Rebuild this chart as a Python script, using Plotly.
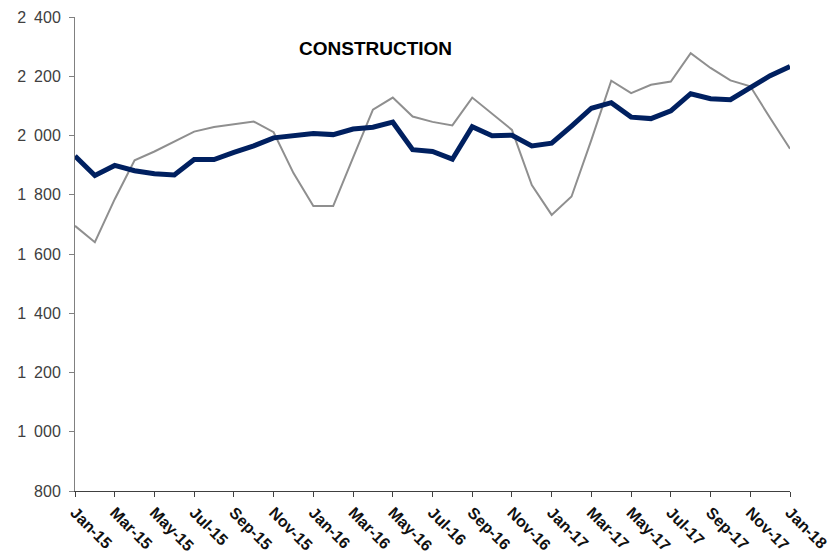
import plotly.graph_objects as go

months = ["Jan-15","Feb-15","Mar-15","Apr-15","May-15","Jun-15","Jul-15","Aug-15","Sep-15","Oct-15","Nov-15","Dec-15",
          "Jan-16","Feb-16","Mar-16","Apr-16","May-16","Jun-16","Jul-16","Aug-16","Sep-16","Oct-16","Nov-16","Dec-16",
          "Jan-17","Feb-17","Mar-17","Apr-17","May-17","Jun-17","Jul-17","Aug-17","Sep-17","Oct-17","Nov-17","Dec-17",
          "Jan-18"]

trend = [1931, 1865, 1899, 1881, 1871, 1867, 1919, 1919, 1943, 1965, 1992, 2000,
         2007, 2003, 2022, 2028, 2045, 1952, 1946, 1920, 2030, 1999, 2001, 1965,
         1974, 2032, 2092, 2111, 2062, 2057, 2083, 2141, 2124, 2121, 2160, 2202,
         2233]

raw = [1695, 1640, 1785, 1916, 1946, 1980, 2013, 2029, 2038, 2047, 2011, 1873,
       1762, 1762, 1925, 2087, 2128, 2064, 2046, 2034, 2128, 2075, 2019, 1833,
       1732, 1794, 1985, 2185, 2143, 2171, 2182, 2278, 2228, 2186, 2166, 2059,
       1955]

tick_labels = months[::2]
y_ticks = [800, 1000, 1200, 1400, 1600, 1800, 2000, 2200, 2400]
y_tick_text = ["800", "1\u2002000", "1\u2002200", "1\u2002400", "1\u2002600",
               "1\u2002800", "2\u2002000", "2\u2002200", "2\u2002400"]
title_text = "CONSTRUCTION"

fig = go.Figure()
fig.add_trace(go.Scatter(x=months, y=raw, mode="lines",
                         line=dict(color="#8f8f8f", width=2), showlegend=False))
fig.add_trace(go.Scatter(x=months, y=trend, mode="lines",
                         line=dict(color="#002060", width=5), showlegend=False))

L, R, T, B = 75, 46, 17, 69
W, H = 836, 560
pw = W - L - R
ph = H - T - B

fig.update_layout(
    width=W, height=H,
    margin=dict(l=L, r=R, t=T, b=B),
    paper_bgcolor="white", plot_bgcolor="white",
    font=dict(family="Liberation Sans, Arial, sans-serif", color="#333333"),
    xaxis=dict(type="category", range=[0, len(months) - 1], automargin=False,
               tickmode="array", tickvals=tick_labels, ticktext=tick_labels,
               tickangle=45, ticks="outside", ticklen=5, tickcolor="#404040",
               showline=True, linecolor="#404040", linewidth=1,
               showgrid=False, zeroline=False,
               tickfont=dict(size=16, color="#111111", family="Liberation Sans, Arial, sans-serif", weight="bold")),
    yaxis=dict(range=[800, 2400], tickmode="array", tickvals=y_ticks, ticktext=y_tick_text,
               automargin=False, ticklabelstandoff=5,
               ticks="outside", ticklen=5, tickcolor="#808080",
               showline=True, linecolor="#808080", linewidth=1,
               showgrid=False, zeroline=False,
               tickfont=dict(size=16, color="#404040")),
    annotations=[dict(text="<b>" + title_text + "</b>",
                      x=(375 - L) / pw, y=(H - B - 36) / ph,
                      xref="paper", yref="paper",
                      showarrow=False, font=dict(size=19, color="#000000"))],
)

fig.write_html("out.html", config={"displayModeBar": False},
               post_script="document.body.style.margin='0';")
